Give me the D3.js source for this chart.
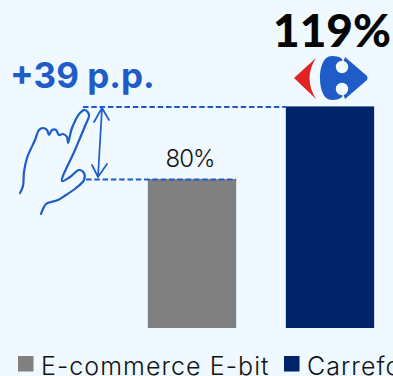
<!DOCTYPE html>
<html>
<head>
<meta charset="utf-8">
<script src="https://cdn.jsdelivr.net/npm/d3@7"></script>
<style>
  html, body { margin: 0; padding: 0; background: #eff9ff; overflow: hidden; }
  svg { display: block; }
</style>
</head>
<body>
<div id="chart"></div>
<script>
// Series shown in the chart
const categories = ["E-commerce E-bit", "Carrefour"];
const values = [80, 119];
const valueLabels = ["80%", "119%"];
const barColors = ["#808080", "#00246b"];
const gapLabel = "+39 p.p.";

const width = 393, height = 376;
const accent = "#1f5cc8";
const bg = "#eff9ff";
const sans = "Lato, 'Open Sans', sans-serif";
const wide = "Inter, 'Open Sans', sans-serif";

const svg = d3.select("#chart").append("svg")
  .attr("width", width).attr("height", height)
  .attr("viewBox", `0 0 ${width} ${height}`);

svg.append("rect").attr("width", width).attr("height", height).attr("fill", bg);

const x = d3.scaleBand().domain(categories).range([123, 399]).paddingInner(0.36).paddingOuter(0.18);
const y = d3.scaleLinear().domain([0, 119]).range([328, 106.4]);

// Bars
svg.selectAll("rect.bar").data(categories).join("rect")
  .attr("class", "bar")
  .attr("x", d => x(d))
  .attr("y", (d, i) => y(values[i]))
  .attr("width", x.bandwidth())
  .attr("height", (d, i) => y(0) - y(values[i]))
  .attr("fill", (d, i) => barColors[i]);

// Dashed guides at the height of each bar
const guides = [
  { from: 83, to: x(categories[1]), v: values[1] },
  { from: 86, to: x(categories[0]) + x.bandwidth(), v: values[0] }
];
svg.selectAll("line.guide").data(guides).join("line")
  .attr("class", "guide")
  .attr("x1", d => d.from).attr("x2", d => d.to)
  .attr("y1", d => y(d.v) + 0.5).attr("y2", d => y(d.v) + 0.5)
  .attr("stroke", accent).attr("stroke-width", 2)
  .attr("stroke-dasharray", "5.5 2.8");

// Value labels
svg.append("text")
  .attr("x", x(categories[0]) + x.bandwidth() / 2 - 2).attr("y", 167)
  .attr("text-anchor", "middle")
  .attr("font-family", wide).attr("font-size", 24).attr("font-weight", 300)
  .attr("letter-spacing", -1)
  .attr("fill", "#111").text(valueLabels[0]);

svg.append("text")
  .attr("x", 332).attr("y", 47)
  .attr("text-anchor", "middle")
  .attr("font-family", sans).attr("font-size", 46).attr("font-weight", 900)
  .attr("fill", "#050505").text(valueLabels[1]);

// Difference callout
svg.append("text")
  .attr("x", 10).attr("y", 88)
  .attr("font-family", wide).attr("font-size", 35).attr("font-weight", 700)
  .attr("fill", accent).text(gapLabel);

const ink = svg.append("g").attr("fill", "none").attr("stroke", accent)
  .attr("stroke-linecap", "round").attr("stroke-linejoin", "round");

// Double-headed arrow between the guides
ink.append("path").attr("stroke-width", 1.7).attr("d",
  "M102,108 L98,177 M94,122 L102,108 L109,120 M92,165 L98,177 L107,164");

// Hand sketch
ink.append("path").attr("stroke-width", 2.2).attr("d", d3.line().curve(d3.curveCatmullRom)([
  [20,193],[23,186],[24,172],[27,158],[35,140],[39,130],[43,128],[47,130],[49,135],
  [52,130],[56,130],[59,135],[63,134],[67,137],[68,143],[72,128],[80,113],[85,110],
  [89,115],[85,126],[75,150],[62,181],[70,177],[79,170],[84,173],[84,180],[76,188],
  [66,195],[58,200],[46,204],[43,209],[41,214]
]));

// Carrefour mark: red chevron and a blue body with two round cut-outs
const logo = svg.append("g");
logo.append("path").attr("fill", "#e32322")
  .attr("d", "M316,58 L294,78 L316,99 Q303,78 316,58 Z");
logo.append("path").attr("fill", accent)
  .attr("d", "M332,56 C323,56 320,68 320,78 C320,88 323,100 332,100 C337,100 340,99 342,97 L343,93 L345,99 L367,80 Q368,78 367,76 L345,57 L343,63 L342,59 C340,57 337,56 332,56 Z");
logo.selectAll("circle").data([[342, 67], [342, 89]]).join("circle")
  .attr("cx", d => d[0]).attr("cy", d => d[1]).attr("r", 6.2).attr("fill", bg);

// Legend, running off the right edge
const legendX = [18, 284];
const legend = svg.selectAll("g.legend").data(categories).join("g")
  .attr("class", "legend")
  .attr("transform", (d, i) => `translate(${legendX[i]},0)`);
legend.append("rect")
  .attr("y", 356).attr("width", 15.5).attr("height", 15.5)
  .attr("fill", (d, i) => barColors[i]);
legend.append("text")
  .attr("x", 23).attr("y", 375)
  .attr("font-family", wide).attr("font-size", 25).attr("font-weight", 300)
  .attr("letter-spacing", 1.05)
  .attr("fill", "#111").text(d => d);
</script>
</body>
</html>
